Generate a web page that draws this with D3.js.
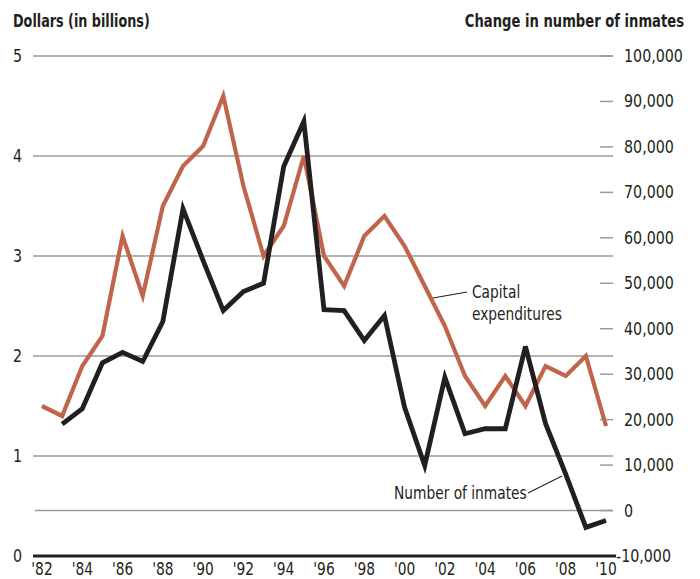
<!DOCTYPE html>
<html>
<head>
<meta charset="utf-8">
<script src="https://cdn.jsdelivr.net/npm/d3@7"></script>
<style>
  body { margin: 0; background: #fff; }
  text { font-family: "Liberation Sans Narrow", "DejaVu Sans Condensed", "Roboto", sans-serif; fill: #231f20; }
</style>
</head>
<body>
<div id="chart"></div>
<script>
const WIDTH  = 700
const HEIGHT = 579

// capital expenditures, billions of dollars (left axis)
const capYears  = d3.range(1982, 2011)
const capValues = [1.5, 1.4, 1.9, 2.2, 3.2, 2.6, 3.5, 3.9, 4.1, 4.6,
                   3.7, 3.0, 3.3, 4.0, 3.0, 2.7, 3.2, 3.4, 3.1, 2.7,
                   2.3, 1.8, 1.5, 1.8, 1.5, 1.9, 1.8, 2.0, 1.3]

// change in number of inmates (right axis)
const inmYears  = d3.range(1983, 2011)
const inmValues = [19000, 22400, 32500, 34800, 32800, 41600, 66400, 55000, 44000,
                   48200, 50000, 75700, 85600, 44200, 44000, 37400, 42900, 22700,
                   9900, 29300, 16900, 18000, 18000, 36100, 19100, 8000, -3700, -2200]

const leftTicks  = [0, 1, 2, 3, 4, 5]
const rightTicks = d3.range(-10000, 100001, 10000)
const yearTicks  = d3.range(1982, 2011, 2)

const x  = d3.scaleLinear().domain([1982, 2010]).range([42, 606])
const yL = d3.scaleLinear().domain([0, 5]).range([556, 56])
const yR = d3.scaleLinear().domain([-10000, 100000]).range([556, 56])

const svg = d3.select('#chart').append('svg')
    .attr('width', WIDTH)
    .attr('height', HEIGHT)

// squeeze text horizontally to mimic the condensed face of the original
const condense = (sel, k) => sel.each(function () {
    const w = this.getComputedTextLength()
    d3.select(this).attr('textLength', w * k).attr('lengthAdjust', 'spacingAndGlyphs')
})

// titles
svg.append('text')
    .attr('x', 13).attr('y', 27)
    .attr('font-size', 17).attr('font-weight', 'bold')
    .text('Dollars (in billions)')
    .call(condense, 0.835)

svg.append('text')
    .attr('transform', 'translate(684,27) scale(0.86,1)')
    .attr('text-anchor', 'end')
    .attr('font-size', 17).attr('font-weight', 'bold')
    .text('Change in number of inmates')

// gridlines
svg.append('g').selectAll('line')
    .data(leftTicks.filter(d => d > 0))
    .join('line')
    .attr('x1', 33).attr('x2', 613)
    .attr('y1', d => yL(d)).attr('y2', d => yL(d))
    .attr('stroke', '#9a9a9a').attr('stroke-width', 1.5)

svg.append('line')
    .attr('x1', 35).attr('x2', 613)
    .attr('y1', yR(0)).attr('y2', yR(0))
    .attr('stroke', '#9a9a9a').attr('stroke-width', 1.5)

// left axis labels
svg.append('g').selectAll('text')
    .data(leftTicks)
    .join('text')
    .attr('x', 13).attr('y', d => yL(d) + 6)
    .attr('font-size', 18)
    .text(d => d)
    .call(condense, 0.88)

// right axis ticks + labels
const rAxis = svg.append('g')
rAxis.selectAll('line')
    .data(rightTicks.filter(d => d > -10000))
    .join('line')
    .attr('x1', 600).attr('x2', 613)
    .attr('y1', d => yR(d)).attr('y2', d => yR(d))
    .attr('stroke', '#9a9a9a').attr('stroke-width', 1.5)

const fmt = d3.format(',')
rAxis.selectAll('text')
    .data(rightTicks)
    .join('text')
    .attr('x', d => d < 0 ? 616 : 624)
    .attr('y', d => yR(d) + 6)
    .attr('font-size', 18)
    .text(d => fmt(d).replace('−', '-'))
    .call(condense, 0.88)

// baseline
svg.append('line')
    .attr('x1', 33).attr('x2', 616)
    .attr('y1', yL(0)).attr('y2', yL(0))
    .attr('stroke', '#231f20').attr('stroke-width', 3)

// x labels
svg.append('g').selectAll('text')
    .data(yearTicks)
    .join('text')
    .attr('x', d => x(d)).attr('y', 575)
    .attr('text-anchor', 'middle')
    .attr('font-size', 17)
    .text(d => "'" + String(d).slice(2))
    .call(condense, 0.9)

// lines
const capLine = d3.line()
    .x((d, i) => x(capYears[i]))
    .y(d => yL(d))

const inmLine = d3.line()
    .x((d, i) => x(inmYears[i]))
    .y(d => yR(d))

svg.append('path')
    .attr('d', capLine(capValues))
    .attr('fill', 'none')
    .attr('stroke', '#c0654b')
    .attr('stroke-width', 4.2)
    .attr('stroke-linejoin', 'miter')

svg.append('path')
    .attr('d', inmLine(inmValues))
    .attr('fill', 'none')
    .attr('stroke', '#231f20')
    .attr('stroke-width', 4.8)
    .attr('stroke-linejoin', 'miter')

// annotations
svg.append('line')
    .attr('x1', 433).attr('y1', 298).attr('x2', 467).attr('y2', 292)
    .attr('stroke', '#231f20').attr('stroke-width', 1.2)

svg.append('text')
    .attr('x', 472).attr('y', 298)
    .attr('font-size', 18)
    .text('Capital')
    .call(condense, 0.85)

svg.append('text')
    .attr('x', 472).attr('y', 320)
    .attr('font-size', 18)
    .text('expenditures')
    .call(condense, 0.85)

svg.append('line')
    .attr('x1', 528).attr('y1', 493).attr('x2', 562).attr('y2', 476)
    .attr('stroke', '#231f20').attr('stroke-width', 1.2)

svg.append('text')
    .attr('x', 394).attr('y', 499)
    .attr('font-size', 18)
    .text('Number of inmates')
    .call(condense, 0.85)
</script>
</body>
</html>
